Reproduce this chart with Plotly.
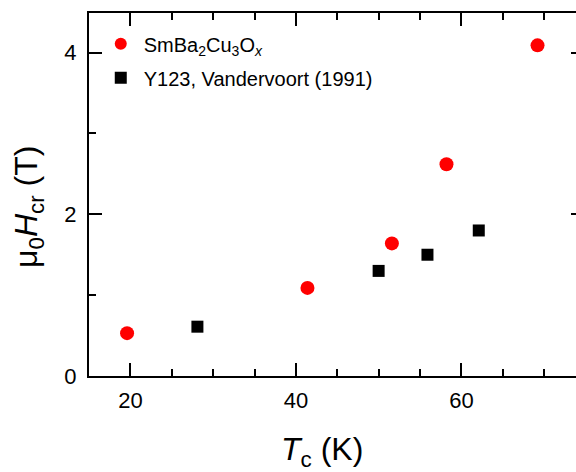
import plotly.graph_objects as go

sm_tc = [19.6, 41.4, 51.6, 58.2, 69.2]
sm_h = [0.53, 1.09, 1.64, 2.62, 4.09]
y_tc = [28.1, 50.0, 55.9, 62.1]
y_h = [0.61, 1.30, 1.50, 1.80]

FONT = "Liberation Sans, Arial, sans-serif"

fig = go.Figure()
fig.add_trace(go.Scatter(x=sm_tc, y=sm_h, mode="markers", legendgroup="a",
                         name="SmBa<sub>2</sub>Cu<sub>3</sub>O<sub><i>x</i></sub>",
                         marker=dict(symbol="circle", size=14, color="#ff0000", line=dict(width=0))))
fig.add_trace(go.Scatter(x=y_tc, y=y_h, mode="markers", legendgroup="b", yaxis="y2",
                         name="Y123, Vandervoort (1991)",
                         marker=dict(symbol="square", size=12, color="#000000", line=dict(width=0))))

fig.update_layout(
    width=576, height=472,
    margin=dict(l=89, r=0, t=13, b=96),
    paper_bgcolor="white", plot_bgcolor="white",
    font=dict(family=FONT, color="black", size=22),
    showlegend=True,
    legend=dict(x=0.018, y=0.969, xanchor="left", yanchor="top",
                font=dict(size=20, family=FONT), bgcolor="rgba(0,0,0,0)",
                itemsizing="constant", tracegroupgap=5, itemwidth=36),
    xaxis=dict(range=[15, 73.85], tickvals=[20, 40, 60], ticks="inside", ticklen=13,
               tickwidth=2, tickcolor="black", showline=True, linewidth=2, linecolor="black",
               mirror="ticks", showgrid=False, zeroline=False,
               tickfont=dict(size=22), ticklabelstandoff=4,
               minor=dict(dtick=5, tick0=0, ticks="inside", ticklen=7, tickwidth=2, tickcolor="black")),
    yaxis=dict(range=[0, 4.49], tickvals=[0, 2, 4], ticks="inside", ticklen=13,
               tickwidth=2, tickcolor="black", showline=True, linewidth=2, linecolor="black",
               showgrid=False, zeroline=False, tickfont=dict(size=22), ticklabelstandoff=6,
               minor=dict(dtick=1, tick0=0, ticks="inside", ticklen=7, tickwidth=2, tickcolor="black")),
    yaxis2=dict(range=[0, 4.49], overlaying="y", side="right", tickvals=[0, 2, 4],
                ticks="inside", ticklen=5, tickwidth=2, tickcolor="black", showline=False,
                showticklabels=False, showgrid=False, zeroline=False),
)

fig.add_annotation(text="<i>T</i><sub>c</sub> (K)", xref="paper", yref="paper",
                   x=(322 - 89) / 487, y=-(451 - 376) / 363, xanchor="center", yanchor="middle",
                   showarrow=False, font=dict(size=32, family=FONT))
fig.add_annotation(text="μ<sub>0</sub><i>H</i><sub>cr</sub> (T)", xref="paper", yref="paper",
                   x=-(89 - 28) / 487, y=(376 - 207) / 363, xanchor="center", yanchor="middle",
                   textangle=-90, showarrow=False, font=dict(size=32, family=FONT))

fig.write_html("out.html")
